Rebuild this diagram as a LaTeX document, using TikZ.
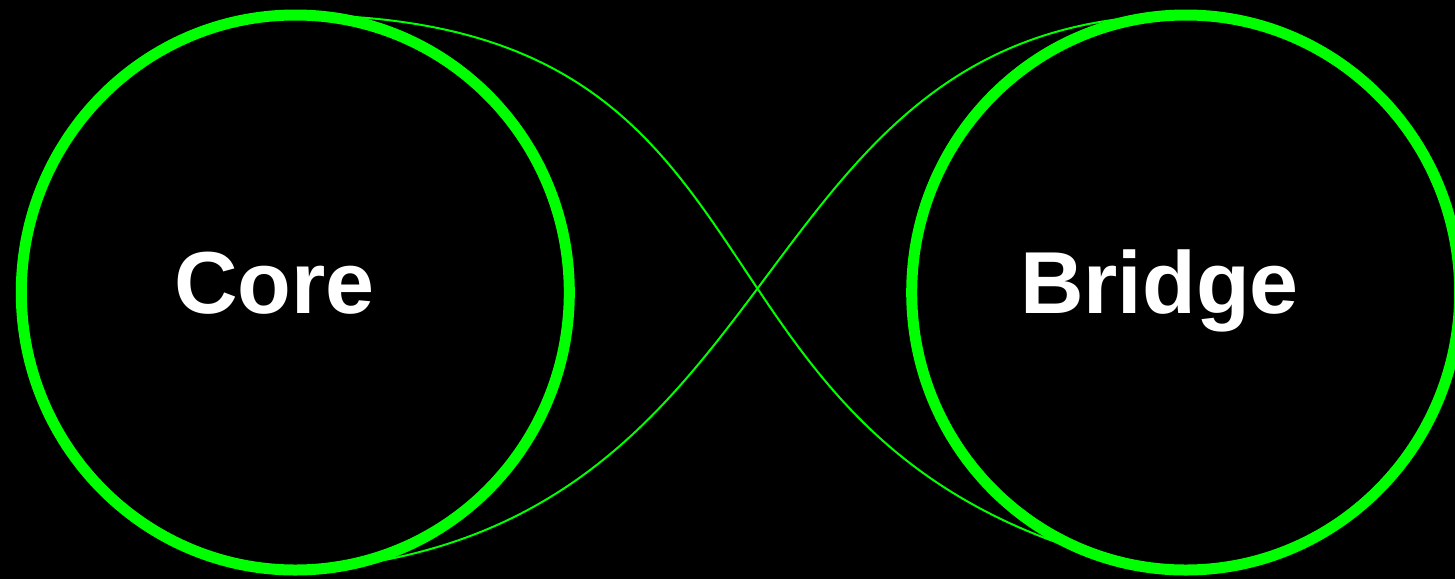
\documentclass[tikz,border=0pt]{standalone}
\usepackage{fontspec}
\setmainfont{Liberation Sans}
\usetikzlibrary{shapes.geometric}
\definecolor{neon}{HTML}{00FF00}
\tikzset{
  ring/.style={ellipse, draw=neon, line width=11pt, minimum width=548pt, minimum height=555pt, inner sep=0pt, outer sep=0pt},
  lbl/.style={text=white, font=\bfseries\fontsize{88}{100}\selectfont, inner sep=0pt, anchor=base},
  link/.style={draw=neon, line width=2pt}
}
\begin{document}
\begin{tikzpicture}[x=1pt,y=-1pt]
\fill[black] (0,0) rectangle (1455,579);
\useasboundingbox (0,0) rectangle (1455,579);
\node[ring] (core) at (295.3,292.5) {};
\node[ring] (bridge) at (1185.7,292.5) {};
\node[lbl] (coretxt) at (274.5,313) {Core};
\node[lbl] (bridgetxt) at (1159.5,313) {Bridge};
\draw[link] (core.north) .. controls +(520,0) and +(-463.7,-124.3) .. (bridge.255);
\draw[link] (core.275) .. controls +(488.1,-42.7) and +(-450,0) .. (bridge.north);
\end{tikzpicture}
\end{document}
